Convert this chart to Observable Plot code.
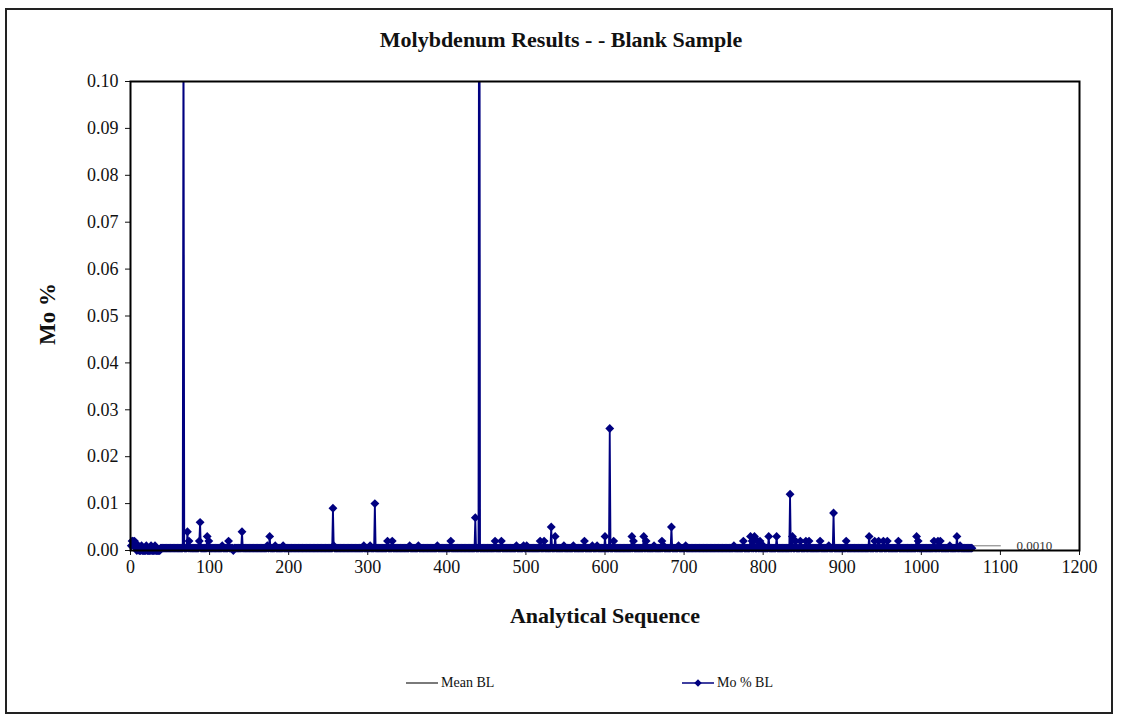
<!DOCTYPE html>
<html>
<head>
<meta charset="utf-8">
<script src="https://cdn.jsdelivr.net/npm/d3@7"></script>
<script src="https://cdn.jsdelivr.net/npm/@observablehq/plot@0.6"></script>
<style>
  body { margin: 0; background: #fff; font-family: "Liberation Serif", "Times New Roman", serif; color: #111; }
  #page { position: relative; width: 1122px; height: 721px; overflow: hidden; }
  #border { position: absolute; left: 5px; top: 8px; width: 1108px; height: 706px; border: 2px solid #222; box-sizing: border-box; }
  #chart { position: absolute; left: 0; top: 0; }
  .txt { position: absolute; white-space: nowrap; }
  #title { left: 0; width: 1122px; top: 27px; text-align: center; font-weight: bold; font-size: 22px; line-height: 26px; }
  #ylab { left: 48px; top: 314px; font-weight: bold; font-size: 23px; transform: translate(-50%, -50%) rotate(-90deg); }
  #xlab { left: 605px; top: 616px; font-weight: bold; font-size: 22px; transform: translate(-50%, -50%); }
  #legend { left: 0; top: 673px; width: 1122px; height: 20px; }
  .item { position: absolute; top: 0; display: flex; align-items: center; font-size: 14px; height: 20px; }
  .item svg { margin-right: 3px; }
</style>
</head>
<body>
<div id="page">
  <div id="border"></div>
  <div id="chart"></div>
  <div id="title" class="txt">Molybdenum Results - - Blank Sample</div>
  <div id="ylab" class="txt">Mo %</div>
  <div id="xlab" class="txt">Analytical Sequence</div>
  <div id="legend" class="txt"></div>
</div>
<script>
// Mo % in the blank, one character per analysis in sequence order (50 per row):
//   "." = below detection, reported as half the limit
//   "0"-"9" = thousandths of a percent, "A"-"Z" = 10-35 thousandths
//   "#" = result above the axis maximum, taken in turn from offScaleResults
const seqCodes = [
  "1221211011 0001000001 0000010000 1000000... ..........",
  ".......... ......#... .4.2...... ......26.. ......3.2.",
  ".......... .....1.... ...2.....0 .......... 4.........",
  ".......... .......... ..1..3.... ..1....... ..1.......",
  ".......... .......... .......... .......... ..........",
  ".....91... .......... .......... .......... ....1.....",
  "..1.....A. .......... ....2..... 2......... ..........",
  "..1....... ...1...... .......... .......1.. ..........",
  "....2..... .......... .......... .....7.... #.........",
  ".......... 2.......2. .......... .......1.. ......1...",
  "1......... .......2.. ..2....... .5....3... .......1..",
  ".........1 .......... ...2...... ...1.....1 .........3",
  ".....Q.... 2......... .......... ...3.2.... ........3.",
  ".2........ .1........ .2.1...... ...5...... ..1.......",
  ".1........ .......... .......... .......... ..........",
  ".......... ..1....... ....2..... ...3.2..3. ..2..2...1",
  "......3... ......3... .......... ...C..3... 2.....2...",
  "...2...2.. .......... .2........ ..1.....8. ..........",
  "....2..... .......... .......... ...3...... 2....2....",
  ".2....2... .......... 2......... .......... ...3.2....",
  ".......... .....2.... 2..2...... .....1.... ....3...1.",
  ".............."
];
const offScaleResults = [0.12, 0.2];
const belowDetection = 0.0005;

const meanBL = 0.0010;
const meanSeqRange = [1, 1100];

const xTicks = [0, 100, 200, 300, 400, 500, 600, 700, 800, 900, 1000, 1100, 1200];
const yTicks = [0, 0.01, 0.02, 0.03, 0.04, 0.05, 0.06, 0.07, 0.08, 0.09, 0.10];

const navy = "#000080";
const meanColor = "#777";
const serif = "'Liberation Serif', 'Times New Roman', serif";

// decode the result string into {seq, v} rows
const codes = seqCodes.join("").replace(/\s/g, "");
let offIdx = 0;
const results = Array.from(codes, (c, i) => {
  let v;
  if (c === ".") v = belowDetection;
  else if (c === "#") v = offScaleResults[offIdx++];
  else if (c >= "0" && c <= "9") v = +c / 1000;
  else v = (c.charCodeAt(0) - 55) / 1000;
  return {seq: i + 1, v};
});
const meanRows = meanSeqRange.map(seq => ({seq, v: meanBL}));

const chart = Plot.plot({
  width: 1122,
  height: 721,
  marginTop: 81,
  marginLeft: 130,
  marginRight: 43,
  marginBottom: 171,
  style: {fontFamily: serif, fontSize: "18px", color: "#111", background: "transparent", overflow: "visible"},
  x: {domain: [0, 1200], ticks: xTicks, tickFormat: d3.format("d"), tickSize: 5, tickPadding: 5, label: null},
  y: {domain: [0, 0.10], ticks: yTicks, tickFormat: d3.format(".2f"), tickSize: 5, tickPadding: 7, label: null},
  marks: [
    Plot.line(meanRows, {x: "seq", y: "v", stroke: meanColor, strokeWidth: 1}),
    Plot.line(results, {x: "seq", y: "v", stroke: navy, strokeWidth: 1.8, clip: true}),
    Plot.dot(results, {x: "seq", y: "v", symbol: "diamond2", r: 4, fill: navy, stroke: "none", filter: d => d.v <= 0.10}),
    Plot.text([meanBL], {
      x: () => meanSeqRange[1], y: d => d, text: d => d3.format(".4f")(d),
      textAnchor: "start", dx: 16, fontSize: 13, fill: "#333"
    }),
    Plot.frame({stroke: "#000", strokeWidth: 2})
  ]
});
document.getElementById("chart").appendChild(chart);

// legend entries
const legend = document.getElementById("legend");
function addItem(left, label, withMarker, color) {
  const item = document.createElement("div");
  item.className = "item";
  item.style.left = left + "px";
  const sw = d3.create("svg").attr("width", 32).attr("height", 12);
  sw.append("line").attr("x1", 0).attr("x2", 32).attr("y1", 6).attr("y2", 6)
    .attr("stroke", color).attr("stroke-width", withMarker ? 1.5 : 1.2);
  if (withMarker) sw.append("path").attr("d", d3.symbol(d3.symbolDiamond2, 36)()).attr("transform", "translate(16,6)").attr("fill", navy);
  item.appendChild(sw.node());
  const t = document.createElement("span");
  t.textContent = label;
  item.appendChild(t);
  legend.appendChild(item);
}
addItem(406, "Mean BL", false, "#222");
addItem(682, "Mo % BL", true, navy);
</script>
</body>
</html>
